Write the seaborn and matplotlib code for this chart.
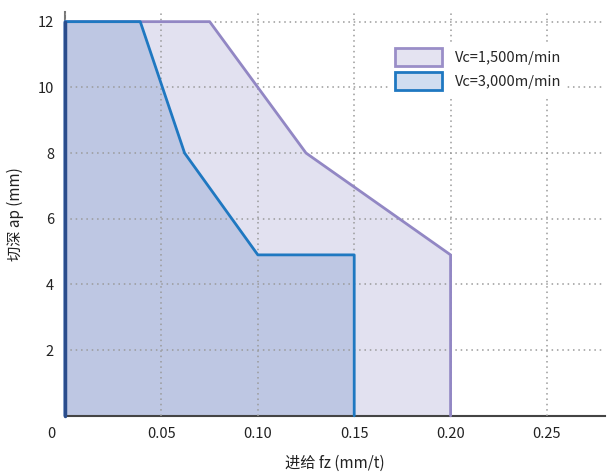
import matplotlib
matplotlib.use("Agg")
import matplotlib.pyplot as plt
from matplotlib.patches import Patch
import matplotlib.transforms as mtransforms
import seaborn as sns
import pandas as pd

# Cutting limit envelopes (feed fz mm/t vs depth ap mm)
fz_1500 = [0, 0, 0.075, 0.125, 0.20, 0.20]
ap_1500 = [0, 12, 12, 8, 4.9, 0]
fz_3000 = [0, 0, 0.039, 0.062, 0.10, 0.15, 0.15]
ap_3000 = [0, 12, 12, 8, 4.9, 4.9, 0]
labels = ["Vc=1,500m/min", "Vc=3,000m/min"]
xticks = [0, 0.05, 0.10, 0.15, 0.20, 0.25]
xticklabels = ["0", "0.05", "0.10", "0.15", "0.20", "0.25"]
yticks = [2, 4, 6, 8, 10, 12]

sns.set_theme(style="white")
plt.rcParams['font.family'] = ['Noto Sans CJK SC', 'DejaVu Sans']

df = pd.concat([
    pd.DataFrame({'fz': fz_1500, 'ap': ap_1500, 'Vc': labels[0]}),
    pd.DataFrame({'fz': fz_3000, 'ap': ap_3000, 'Vc': labels[1]}),
])

fill_cols = ['#E2E1F0', '#BEC7E3']
edge_cols = ['#9287C4', '#1F78C1']

fig = plt.figure(figsize=(6.14, 4.72), dpi=100)
ax = fig.add_axes([0.106, 0.119, 0.879, 0.856])

for i, lab in enumerate(labels):
    sub = df[df['Vc'] == lab]
    ax.fill(sub['fz'], sub['ap'], color=fill_cols[i], zorder=0.5 + 0.1 * i)
    sns.lineplot(data=sub, x='fz', y='ap', sort=False, estimator=None,
                 color=edge_cols[i], linewidth=2, ax=ax, zorder=3 + i)
for ln in ax.get_lines():
    ln.set_clip_on(False)
# left edge of the envelopes looks darker in the reference
ax.plot([0, 0], [0, 12], color='#2a4c8c', linewidth=2.5, clip_on=False, zorder=6)

ax.set_xlim(0, 0.28)
ax.set_ylim(0, 12.3)
ax.set_xticks(xticks)
ax.set_xticklabels(xticklabels)
ax.set_yticks(yticks)
ax.tick_params(axis='both', labelsize=10.5, colors='#222222', length=0, pad=8)
ax.grid(True, linestyle=(0, (1, 2.5)), color='#9a9a9a', linewidth=1.1)
ax.set_axisbelow(False)  # dotted grid shows over the fills

# shift the origin label slightly left
offset = mtransforms.ScaledTranslation(-10 / 72, 0, fig.dpi_scale_trans)
ax.get_xticklabels()[0].set_transform(ax.get_xticklabels()[0].get_transform() + offset)

for s in ['top', 'right']:
    ax.spines[s].set_visible(False)
ax.spines['left'].set_color('#777777')
ax.spines['left'].set_linewidth(1.5)
ax.spines['bottom'].set_color('#444444')
ax.spines['bottom'].set_linewidth(1.5)

ax.set_xlabel('进给 fz (mm/t)', fontsize=11, labelpad=10, color='#222222')
ax.set_ylabel('切深 ap (mm)', fontsize=11, labelpad=10, color='#222222')

handles = [Patch(facecolor='#E4E3F1', edgecolor='#9A8EC8', linewidth=2),
           Patch(facecolor='#D0DDF0', edgecolor='#1F78C1', linewidth=2)]
leg = ax.legend(handles, labels, loc='upper left', bbox_to_anchor=(0.59, 0.94),
                frameon=True, facecolor='white', edgecolor='white', framealpha=1,
                fontsize=10.5, handlelength=3.2, handleheight=1.6,
                labelspacing=0.35, borderpad=0.3, handletextpad=0.9)
leg.set_zorder(10)

fig.savefig('out.png', dpi=100)
